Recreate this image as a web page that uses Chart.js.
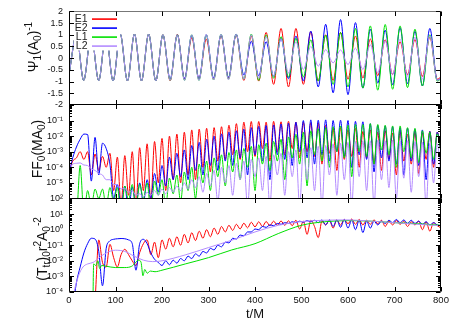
<!DOCTYPE html>
<html>
<head>
<meta charset="utf-8">
<title>Psi_1, FF_0 and (T_tr)_0 versus t/M</title>
<script src="https://cdn.jsdelivr.net/npm/chart.js@4.4.1/dist/chart.umd.min.js"></script>
<style>
html,body{margin:0;padding:0;background:#ffffff;}
canvas{display:block;}
</style>
</head>
<body>
<canvas id="chart" width="463" height="324" style="width:463px;height:324px"></canvas>
<script>
// ---------------- data ----------------
const seriesNames = ['E1', 'E2', 'L1', 'L2'];
const xTickValues = [0, 100, 200, 300, 400, 500, 600, 700, 800];
const psiTickValues = [2, 1.5, 1, 0.5, 0, -0.5, -1, -1.5, -2];
const psiTickLabels = ['2', '1.5', '1', '0.5', '0', '-0.5', '-1', '-1.5', '-2'];
const ffTickValues = [1e-1, 1e-2, 1e-3, 1e-4, 1e-5];
const ffTickLabels = ['10⁻¹', '10⁻²', '10⁻³', '10⁻⁴', '10⁻⁵'];
const trTickValues = [1e2, 1e1, 1, 1e-1, 1e-2, 1e-3, 1e-4];
const trTickLabels = ['10²', '10¹', '10⁰', '10⁻¹', '10⁻²', '10⁻³', '10⁻⁴'];

// top panel: Psi_1 (A_0)^-1, times of the crests and troughs
const psiT = [0, 16, 31.6, 47.7, 63.9, 79.3, 94.8, 110.2, 125.7, 140.8, 155.9, 171.3, 186.7,
  202, 217.5, 233, 248.5, 264, 279.5, 295.2, 311, 327, 343, 359.5,
  376, 392, 408, 424, 440, 456, 472, 488, 504, 520, 536, 552, 568, 584, 600, 616, 632, 648, 664, 680, 696, 712, 728, 744, 760, 776, 792,
  800];
const psiE1 = [-0.7, 1.0, -0.95, 1.02, -0.96, 1.03, -0.97, 1.03, -0.97, 1.03, -0.97, 1.03, -0.97,
  1.0, -0.97, 1.02, -0.9, 0.88, -0.9, 0.82, -0.9, 0.97, -0.86, 1.0,
  -0.95, 0.95, -0.98, 1.1, -1.12, 1.27, -1.23, 1.27, -1.12, 1.13, -0.98, 1.0, -0.95, 1.1, -0.9, 0.95, -0.85, 0.82, -0.75, 0.78, -0.7, 0.7, -0.7, 0.8, -0.78, 0.9, -0.9,
  -0.8];
const psiE2 = [-0.7, 1.0, -0.95, 1.02, -0.96, 1.03, -0.97, 1.03, -0.97, 1.03, -0.97, 1.03, -0.97,
  1.0, -0.9, 1.0, -0.88, 0.98, -0.88, 1.0, -0.85, 1.0, -0.82, 1.03,
  -0.72, 0.72, -0.75, 0.7, -0.78, 0.85, -0.88, 0.95, -0.98, 1.16, -1.23, 1.45, -1.48, 1.65, -1.56, 1.52, -1.28, 1.24, -1.07, 1.2, -1.15, 1.3, -1.1, 1.15, -1.19, 1.27, -0.95,
  -0.85];
const psiL1 = [-0.7, 1.0, -0.95, 1.02, -0.96, 1.03, -0.97, 1.03, -0.97, 1.03, -0.97, 1.03, -0.97,
  1.0, -0.95, 1.0, -0.95, 1.0, -0.95, 1.0, -0.93, 1.02, -0.9, 1.03,
  -0.9, 1.03, -0.95, 1.0, -0.86, 0.92, -0.81, 0.85, -0.8, 0.78, -0.98, 0.99, -1.12, 1.1, -1.23, 1.27, -1.28, 1.38, -1.37, 1.44, -1.33, 1.38, -1.26, 1.24, -1.19, 1.0, -0.98,
  -0.88];
const psiL2 = [-0.7, 1.0, -0.95, 1.02, -0.96, 1.03, -0.97, 1.03, -0.97, 1.03, -0.97, 1.03, -0.97,
  1.0, -0.95, 1.0, -0.95, 1.0, -0.95, 1.02, -0.93, 1.02, -0.92, 1.03,
  -0.9, 1.0, -0.86, 0.92, -0.77, 0.82, -0.63, 0.7, -0.48, 0.5, -0.34, 0.36, -0.2, 0.35, -0.27, 0.43, -0.48, 0.57, -0.62, 0.74, -0.7, 0.81, -0.77, 0.9, -0.9, 0.95, -0.95,
  -0.85];

// sampling times (dips and crests) shared by the middle panel and by E1/E2 of the bottom panel
const gridT = [0, 8, 16, 24, 32, 40, 48, 56, 64, 72,
  80, 88, 96, 104, 112, 120, 128, 136, 144, 152,
  160, 168, 176, 184, 192, 200, 208, 216, 224, 232,
  240, 248, 256, 264, 272, 280, 288, 296, 304, 312,
  320, 328, 336, 344, 352, 360, 368, 376, 384, 392,
  400, 408, 416, 424, 432, 440, 448, 456, 464, 472,
  480, 488, 496, 504, 512, 520, 528, 536, 544, 552,
  560, 568, 576, 584, 592, 600, 608, 616, 624, 632,
  640, 648, 656, 664, 672, 680, 688, 696, 704, 712,
  720, 728, 736, 744, 752, 760, 768, 776, 784, 792,
  800];

// middle panel: FF_0 (M A_0)
const ffE1 = [5e-5, 2.5e-4, 4e-4, 1e-3, 3.2e-4, 1e-3, 3.2e-5, 7.1e-4, 6.3e-5, 5e-4,
  1e-4, 7.9e-4, 3.2e-6, 4.5e-4, 3.2e-7, 5.6e-4, 1.6e-6, 1e-3, 3.2e-7, 1.8e-3,
  3.2e-6, 3.2e-3, 6.3e-7, 4.5e-3, 1e-5, 7.1e-3, 3.2e-6, 1e-2, 1.6e-5, 1.35e-2,
  1e-5, 1.8e-2, 3.2e-5, 2.5e-2, 1.6e-5, 2.8e-2, 1e-4, 3.2e-2, 5e-5, 3.5e-2,
  2.5e-4, 4e-2, 3.2e-4, 5e-2, 6.3e-4, 6.3e-2, 3.2e-4, 7.9e-2, 1e-3, 8.7e-2,
  5e-4, 8.7e-2, 1.6e-3, 7.9e-2, 2.5e-4, 8.9e-2, 1e-3, 8.3e-2, 6.3e-4, 8.9e-2,
  1.6e-3, 7.9e-2, 4e-4, 7.6e-2, 1e-3, 7.1e-2, 5e-4, 7.1e-2, 1.6e-4, 5e-2,
  7.9e-4, 3.2e-2, 6.3e-5, 3.5e-2, 3.2e-4, 2.5e-2, 5e-4, 3.2e-2, 1e-4, 2e-2,
  4e-4, 2.5e-2, 1.6e-4, 1.8e-2, 6.3e-5, 2.2e-2, 3.2e-4, 1.6e-2, 3.2e-5, 2e-2,
  2.5e-4, 1.3e-2, 1.6e-4, 1.8e-2, 4e-5, 1.6e-2, 3.2e-4, 2e-2, 1e-4, 1.8e-2,
  1e-3];
const ffE2 = [4e-5, 4e-4, 2e-3, 6.3e-3, 1.35e-2, 1.26e-2, 1.3e-5, 8.3e-3, 3.2e-5, 3.5e-3,
  1.6e-3, 1.6e-4, 1e-6, 7.9e-6, 3.2e-7, 6.3e-6, 1.6e-7, 5.6e-6, 3.2e-7, 1e-5,
  5e-7, 1.6e-5, 1e-6, 4e-5, 2.5e-6, 1.3e-4, 6.3e-6, 4.5e-4, 1.6e-5, 7.9e-4,
  2.5e-5, 1.3e-3, 1.6e-5, 2.5e-3, 6.3e-5, 4e-3, 3.2e-5, 6.3e-3, 1.3e-4, 1e-2,
  6.3e-5, 1.4e-2, 2.5e-4, 1.8e-2, 1.3e-4, 2.2e-2, 4e-4, 2.8e-2, 3.2e-5, 3.5e-2,
  6.3e-4, 4.2e-2, 2.5e-4, 4.8e-2, 1.6e-5, 5.2e-2, 6.3e-4, 6e-2, 3.2e-4, 6.8e-2,
  1.3e-4, 7.9e-2, 1e-3, 1e-1, 4e-4, 1.1e-1, 1.6e-4, 1.05e-1, 6.3e-4, 1.1e-1,
  2.5e-4, 1e-1, 1e-3, 1.05e-1, 5e-4, 1e-1, 1e-4, 8.9e-2, 6.3e-4, 8.3e-2,
  3.2e-4, 6.3e-2, 5e-5, 5e-2, 4e-4, 4.5e-2, 2.5e-4, 4e-2, 1.6e-4, 3.5e-2,
  3.2e-5, 3.2e-2, 2.5e-4, 2.8e-2, 1.3e-4, 2.5e-2, 1.6e-5, 2e-2, 1.6e-4, 1.8e-2,
  1e-3];
const ffL1 = [1e-7, 3.2e-7, 1e-7, 1.3e-4, 1e-7, 3.2e-6, 3.2e-7, 4e-6, 1e-6, 4e-6,
  3.2e-7, 5e-6, 6.3e-7, 5e-6, 1e-7, 6.3e-6, 7.9e-7, 7.9e-6, 2.5e-7, 7.9e-6,
  1e-6, 1e-5, 1.6e-7, 1.3e-5, 1.6e-6, 1.6e-5, 3.2e-7, 2e-5, 2e-6, 3.2e-5,
  6.3e-7, 5e-5, 3.2e-6, 1e-4, 1e-6, 1.6e-4, 1e-5, 2.5e-4, 3.2e-6, 4e-4,
  2.5e-5, 6.3e-4, 6.3e-6, 8.9e-4, 5e-5, 1.3e-3, 1.6e-5, 1.6e-3, 1e-4, 2.2e-3,
  3.2e-6, 2.8e-3, 1.6e-4, 3.5e-3, 6.3e-5, 4.6e-3, 2.5e-4, 6.3e-3, 1.6e-5, 8.9e-3,
  4e-4, 1.3e-2, 1.6e-4, 1.8e-2, 6.3e-6, 2.2e-2, 6.3e-4, 3e-2, 2.5e-4, 3.5e-2,
  1e-4, 4e-2, 1e-3, 4.5e-2, 4e-4, 5e-2, 2.5e-5, 5.6e-2, 1e-3, 5.6e-2,
  5e-4, 6.3e-2, 1.6e-4, 5.6e-2, 1.3e-3, 5e-2, 6.3e-4, 4.5e-2, 1e-4, 4.5e-2,
  1e-3, 3.5e-2, 4e-4, 3.2e-2, 2e-4, 2.2e-2, 7.9e-4, 1.8e-2, 3.2e-4, 1.4e-2,
  1e-3];
const ffL2 = [5e-5, 1.6e-4, 1.8e-4, 1.9e-4, 1.4e-4, 1.3e-4, 7.9e-5, 6.3e-5, 4e-5, 3.2e-5,
  1.6e-5, 1.6e-5, 7.9e-6, 7.9e-6, 4e-6, 4.5e-6, 2.5e-6, 3.2e-6, 1.6e-6, 2e-6,
  1.3e-6, 2.5e-6, 1.6e-6, 3.2e-6, 1.6e-6, 4e-6, 2e-6, 5e-6, 2.5e-6, 6.3e-6,
  3.2e-6, 1e-5, 4e-6, 1.6e-5, 5e-6, 2.5e-5, 2.5e-6, 4e-5, 6.3e-6, 6.3e-5,
  6.3e-7, 1e-4, 1e-5, 1.3e-4, 1.6e-6, 1.8e-4, 1.6e-5, 2.5e-4, 3.2e-7, 3.2e-4,
  2.5e-5, 4e-4, 3.2e-6, 5e-4, 3.2e-7, 6.3e-4, 3.2e-5, 7.9e-4, 1.6e-6, 1e-3,
  2.5e-5, 1.3e-3, 3.2e-7, 1.6e-3, 1.6e-5, 1.8e-3, 3.2e-6, 2.2e-3, 3.2e-7, 2.5e-3,
  3.2e-5, 3.2e-3, 1.6e-6, 3.5e-3, 1.6e-5, 4e-3, 3.2e-7, 4.5e-3, 2.5e-5, 5e-3,
  3.2e-6, 5e-3, 3.2e-7, 5.6e-3, 1.6e-5, 5e-3, 5e-6, 5.6e-3, 1e-6, 5e-3,
  2e-5, 5e-3, 2.5e-6, 4.5e-3, 2.5e-5, 4e-3, 3.2e-7, 3.5e-3, 1e-5, 3.2e-3,
  3.2e-5];

// bottom panel: (T_tr)_0 r^2 A_0^-2
const trE1 = [1e-6, 1e-6, 1e-6, 1e-6, 1e-6, 1e-6, 1e-6, 3.2e-5, 0.22, 7.9e-3,
  4e-3, 0.115, 1.6e-2, 4e-3, 2.5e-2, 5.5e-2, 2.5e-2, 1e-2, 5e-3, 3.4e-2,
  0.126, 0.22, 2.5e-2, 0.158, 1.6e-2, 0.22, 5.6e-2, 0.28, 7.9e-2, 0.35,
  0.1, 0.5, 0.14, 0.63, 0.2, 0.79, 0.28, 1.0, 0.35, 1.26,
  0.5, 1.6, 0.71, 1.9, 0.89, 2.2, 1.1, 2.6, 1.3, 3.0,
  1.5, 3.2, 1.6, 3.3, 1.8, 3.5, 1.9, 3.6, 1.9, 3.7,
  1.8, 4.0, 1.1, 3.5, 0.5, 4.0, 1.6, 0.31, 3.5, 2.0,
  4.0, 1.26, 4.2, 2.0, 4.5, 2.4, 4.8, 2.2, 4.5, 2.0,
  4.0, 2.2, 4.2, 2.4, 4.0, 1.6, 3.5, 2.0, 3.8, 2.2,
  3.5, 1.6, 3.2, 2.0, 3.5, 1.0, 3.2, 0.8, 2.8, 1.8,
  1.26];
const trE2 = [1e-6, 1e-5, 4e-4, 4e-3, 3.2e-2, 0.126, 0.28, 0.25, 4e-2, 2.5e-4,
  6.3e-2, 0.19, 0.24, 0.26, 0.27, 0.26, 0.22, 0.126, 2.5e-3, 0.126,
  0.24, 0.126, 3.2e-2, 1.26e-2, 7.9e-3, 5e-3, 1e-2, 5.6e-3, 1.1e-2, 7.1e-3,
  1.4e-2, 1e-2, 2e-2, 1.4e-2, 2.8e-2, 2e-2, 4e-2, 3.2e-2, 6.3e-2, 5e-2,
  0.1, 7.9e-2, 0.158, 0.141, 0.28, 0.25, 0.45, 0.4, 0.71, 0.71,
  1.1, 1.0, 1.6, 1.4, 2.0, 1.8, 2.5, 2.2, 2.8, 2.5,
  3.2, 2.8, 3.5, 3.0, 3.8, 3.2, 4.0, 2.8, 4.2, 2.0,
  4.2, 1.6, 4.2, 1.4, 4.5, 1.26, 4.2, 1.0, 4.0, 0.65,
  3.5, 1.26, 3.5, 2.0, 3.5, 2.5, 4.0, 2.8, 4.5, 2.8,
  4.2, 2.5, 4.0, 2.5, 3.5, 2.2, 3.2, 2.0, 2.8, 2.0,
  1.8];
const trL1T = [51, 53, 58, 62, 66, 70, 80, 100, 120, 135, 150, 155, 159, 163, 168, 175, 185, 200, 250, 300, 350, 400, 450, 500, 550, 600, 650, 700, 750, 800];
const trL1 = [1e-6, 6.3e-3, 5e-3, 1e-2, 3.2e-3, 5e-3, 4.5e-3, 3.7e-3, 3.7e-3, 4.5e-3, 1.1e-2, 7.9e-3, 1.1e-3, 2.8e-3, 1.6e-3, 2.2e-3, 2e-3, 2.5e-3, 6.3e-3, 1.6e-2, 5e-2, 0.126, 0.56, 1.9, 3.2, 3.8, 3.5, 2.8, 2.4, 1.9];
const trL2T = [2, 8, 20, 30, 40, 52, 65, 80, 100, 120, 140, 160, 180, 200, 250, 300, 350, 400, 450, 500, 550, 600, 650, 700, 750, 800];
const trL2 = [1e-6, 3.2e-5, 1e-3, 4e-3, 6.3e-3, 7.9e-3, 1.6e-2, 3.2e-2, 4.8e-2, 4e-2, 2e-2, 1.1e-2, 8.9e-3, 1e-2, 2.4e-2, 7.1e-2, 0.21, 0.71, 1.9, 3.3, 4.0, 4.2, 3.5, 2.8, 2.2, 1.8];

// ---------------- styling ----------------
const FONT = '"Liberation Sans", Arial, Helvetica, sans-serif';
const seriesColors = ['#ff0000', '#0000ff', '#00e000', '#b48cff'];
const drawOrder = [4, 3, 2, 1];

function pairUp(ts, vs) { return ts.map((t, i) => ({ x: t, y: vs[i] })); }

const panelDefs = [
  { id: 'yP', times: [psiT, psiT, psiT, psiT], values: [psiE1, psiE2, psiL1, psiL2] },
  { id: 'yF', times: [gridT, gridT, gridT, gridT], values: [ffE1, ffE2, ffL1, ffL2] },
  { id: 'yT', times: [gridT, gridT, trL1T, trL2T], values: [trE1, trE2, trL1, trL2] }
];
const datasets = [];
panelDefs.forEach(p => seriesNames.forEach((name, i) => {
  datasets.push({
    label: name, xAxisID: 'x', yAxisID: p.id,
    data: pairUp(p.times[i], p.values[i]),
    borderColor: seriesColors[i], backgroundColor: seriesColors[i],
    borderWidth: 1, pointRadius: 0, fill: false,
    cubicInterpolationMode: 'monotone', order: drawOrder[i]
  });
}));

// clip every dataset to the band of its own y axis
const panelClip = {
  id: 'panelClip',
  beforeDatasetDraw(chart, args) {
    const ys = args.meta.yScale, a = chart.chartArea, ctx = chart.ctx;
    ctx.save();
    ctx.beginPath();
    ctx.rect(a.left, ys.top, a.right - a.left, ys.bottom - ys.top);
    ctx.clip();
  },
  afterDatasetDraw(chart) { chart.ctx.restore(); }
};

function drawRotatedTitle(ctx, baseX, cy, parts) {
  const sizes = [14, 10, 10];
  const shifts = [0, 3.5, -5.5];
  let total = 0;
  parts.forEach(([txt, k]) => { ctx.font = sizes[k] + 'px ' + FONT; total += ctx.measureText(txt).width; });
  ctx.save();
  ctx.translate(baseX, cy);
  ctx.rotate(-Math.PI / 2);
  ctx.fillStyle = '#111';
  ctx.textAlign = 'left';
  ctx.textBaseline = 'alphabetic';
  let x = -total / 2;
  parts.forEach(([txt, k]) => {
    ctx.font = sizes[k] + 'px ' + FONT;
    ctx.fillText(txt, x, shifts[k]);
    x += ctx.measureText(txt).width;
  });
  ctx.restore();
}

const framePlugin = {
  id: 'frame',
  afterDatasetsDraw(chart) {
    const ctx = chart.ctx, a = chart.chartArea;
    const L = Math.floor(a.left) + 0.5, R = Math.ceil(a.right) - 0.5;
    ctx.save();
    // opaque key
    ctx.fillStyle = '#ffffff';
    ctx.fillRect(a.left + 5, a.top + 2, 46, 37);
    ctx.font = '10.5px ' + FONT;
    ctx.textAlign = 'right';
    ctx.textBaseline = 'middle';
    seriesNames.forEach((name, i) => {
      const y = a.top + 7.7 + 9 * i;
      ctx.fillStyle = '#222';
      ctx.fillText(name, a.left + 18.5, y);
      ctx.strokeStyle = seriesColors[i];
      ctx.lineWidth = 1.6;
      ctx.beginPath(); ctx.moveTo(a.left + 23, y); ctx.lineTo(a.left + 48, y); ctx.stroke();
    });
    // borders and inward ticks
    ctx.lineWidth = 1;
    const xs = chart.scales.x;
    const ids = ['yP', 'yF', 'yT'];
    ids.forEach((id, k) => {
      const s = chart.scales[id];
      const T = Math.floor(s.top) + 0.5;
      const B = (k === ids.length - 1) ? Math.floor(a.bottom) - 0.5 : Math.floor(s.bottom) + 0.5;
      ctx.strokeStyle = '#000';
      ctx.beginPath();
      ctx.moveTo(L, T); ctx.lineTo(L, B);
      ctx.moveTo(R, T); ctx.lineTo(R, B);
      ctx.moveTo(L, B); ctx.lineTo(R, B);
      ctx.stroke();
      ctx.strokeStyle = k === 0 ? '#777' : '#000';
      ctx.beginPath(); ctx.moveTo(L, T); ctx.lineTo(R, T); ctx.stroke();
      ctx.strokeStyle = '#000';
      ctx.beginPath();
      xTickValues.forEach(v => {
        const px = Math.round(xs.getPixelForValue(v)) + 0.5;
        ctx.moveTo(px, T); ctx.lineTo(px, T + 4.5);
        ctx.moveTo(px, B); ctx.lineTo(px, B - 4.5);
      });
      const yTick = (v, len) => {
        const py = Math.round(s.getPixelForValue(v)) + 0.5;
        ctx.moveTo(L, py); ctx.lineTo(L + len, py);
        ctx.moveTo(R, py); ctx.lineTo(R - len, py);
      };
      if (s.type === 'logarithmic') {
        const lo = Math.round(Math.log10(s.min)), hi = Math.round(Math.log10(s.max));
        for (let e = lo; e <= hi; e++) {
          for (let m = 1; m <= 9; m++) {
            const v = m * Math.pow(10, e);
            if (v < s.min * 0.999 || v > s.max * 1.001) continue;
            yTick(v, m === 1 ? 4.5 : 2.5);
          }
        }
      } else {
        psiTickValues.forEach(v => yTick(v, 4.5));
      }
      ctx.stroke();
    });
    ctx.restore();
    // y axis titles
    drawRotatedTitle(ctx, 37.5, 47, [['Ψ', 0], ['1', 1], ['(A', 0], ['0', 1], [')', 0], ['-1', 2]]);
    drawRotatedTitle(ctx, 41.5, 149, [['FF', 0], ['0', 1], ['(MA', 0], ['0', 1], [')', 0]]);
    drawRotatedTitle(ctx, 46.5, 249, [['(T', 0], ['tr', 1], [')', 0], ['0', 1], ['r', 0], ['2', 2], ['A', 0], ['0', 1], ['-2', 2]]);
  }
};

function yAxis(extra) {
  return Object.assign({
    position: 'left', stack: 'panels', stackWeight: 1,
    grid: { display: false, drawTicks: false },
    border: { display: false },
    afterFit: s => { s.width = 69; }
  }, extra);
}
const tickFont = { family: FONT, size: 9 };

new Chart(document.getElementById('chart'), {
  type: 'line',
  data: { datasets },
  options: {
    responsive: false,
    animation: false,
    devicePixelRatio: 1,
    layout: { padding: { left: 0, right: 22, top: 9, bottom: 0 } },
    plugins: { legend: { display: false }, tooltip: { enabled: false } },
    scales: {
      x: {
        type: 'linear', position: 'bottom', min: 0, max: 800,
        afterBuildTicks: s => { s.ticks = xTickValues.map(v => ({ value: v })); },
        ticks: { autoSkip: false, maxRotation: 0, padding: 3, color: '#111', font: { family: FONT, size: 9.5 }, callback: v => String(v) },
        grid: { display: false, drawTicks: false },
        border: { display: false },
        title: { display: true, text: 't/M', color: '#111', font: { family: FONT, size: 13 }, padding: { top: 0, bottom: 2 } },
        afterFit: s => { s.height = 32; }
      },
      yT: yAxis({
        type: 'logarithmic', min: 1e-4, max: 1e2,
        afterBuildTicks: s => { s.ticks = trTickValues.map(v => ({ value: v })); },
        ticks: { autoSkip: false, padding: 6, color: '#111', font: tickFont, callback: v => trTickLabels[trTickValues.indexOf(v)] }
      }),
      yF: yAxis({
        type: 'logarithmic', min: 1e-6, max: 1,
        afterBuildTicks: s => { s.ticks = ffTickValues.map(v => ({ value: v })); },
        ticks: { autoSkip: false, padding: 6, color: '#111', font: tickFont, callback: v => ffTickLabels[ffTickValues.indexOf(v)] }
      }),
      yP: yAxis({
        type: 'linear', min: -2, max: 2,
        afterBuildTicks: s => { s.ticks = psiTickValues.map(v => ({ value: v })); },
        ticks: { autoSkip: false, padding: 6, color: '#111', font: tickFont, callback: v => psiTickLabels[psiTickValues.indexOf(v)] }
      })
    }
  },
  plugins: [panelClip, framePlugin]
});
</script>
</body>
</html>
